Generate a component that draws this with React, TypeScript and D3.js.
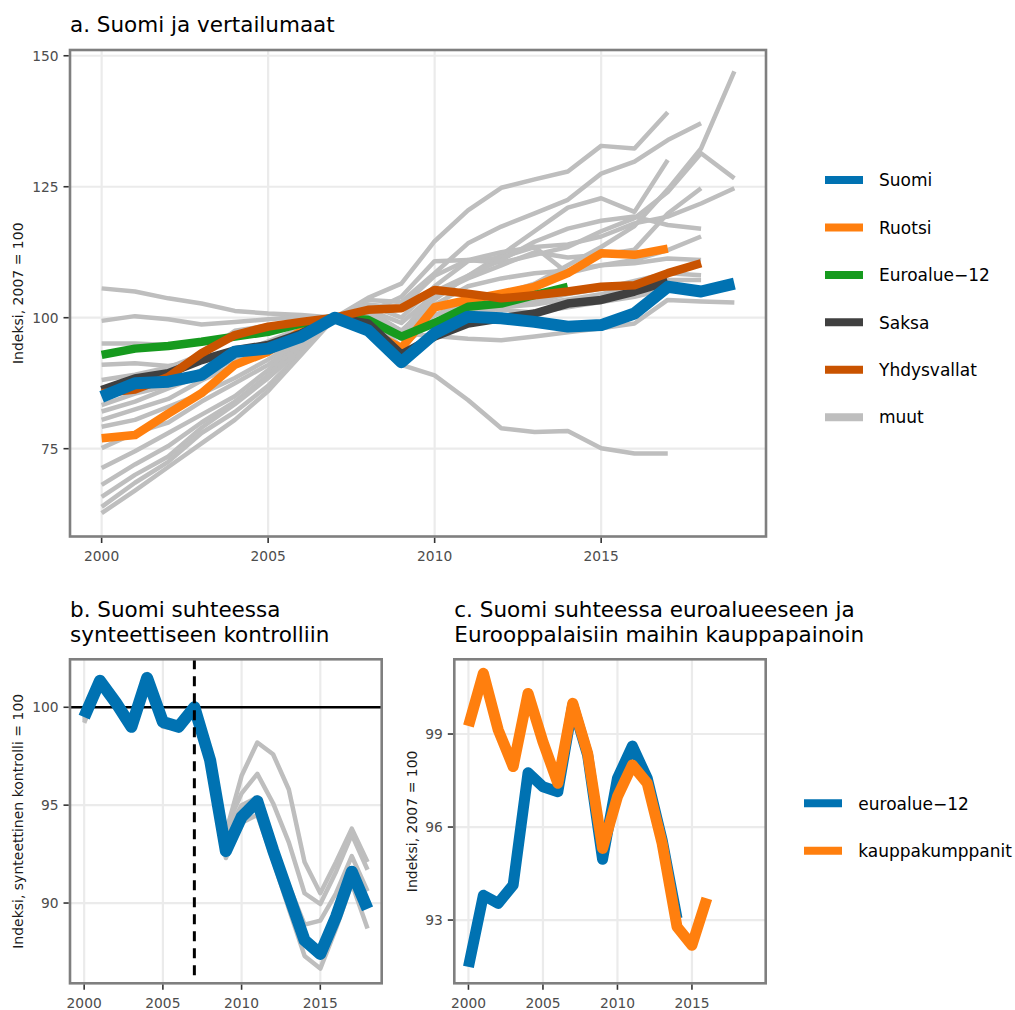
import React from "react";
import * as d3 from "d3";

// ---------- Panel a data ----------
const yearsA = [2000, 2001, 2002, 2003, 2004, 2005, 2006, 2007, 2008, 2009, 2010, 2011, 2012, 2013, 2014, 2015, 2016, 2017, 2018, 2019];
const suomiA = [84.9, 87.5, 87.8, 89.1, 93.5, 94.1, 96.4, 100, 97.6, 91.5, 97.0, 100.2, 99.9, 99.2, 98.3, 98.6, 100.8, 105.9, 105.0, 106.5];
const ruotsiA = [77.0, 77.6, 81.7, 85.6, 91.0, 93.5, 97.5, 100, 97.5, 94.2, 102.0, 103.4, 104.6, 105.9, 108.5, 112.3, 112.0, 113.2, null, null];
const euroA = [92.9, 94.1, 94.6, 95.4, 96.4, 97.3, 98.9, 100, 99.6, 96.4, 99.0, 102.1, 102.7, 104.3, 105.9, null, null, null, null, null];
const saksaA = [86.2, 88.4, 89.4, 91.9, 93.8, 94.8, 97.0, 100, 98.9, 93.0, 96.4, 98.9, 99.9, 100.8, 102.7, 103.4, 105.0, 106.9, null, null];
const usaA = [85.6, 86.3, 88.7, 93.2, 96.7, 98.3, 99.2, 100, 101.5, 101.8, 105.3, 104.6, 103.7, 104.3, 105.0, 105.9, 106.2, 108.5, 110.4, null];

const muut01 = [105.6, 105.0, 103.7, 102.7, 101.3, 100.8, 100.5, 100, 98.5, 91.0, 89.0, 84.3, 78.9, 78.2, 78.4, 75.1, 74.1, 74.1, null, null];
const muut02 = [99.4, 100.3, 99.7, 98.7, 99.2, 99.7, 100.2, 100, 99.5, 97.0, 96.5, 96.0, 95.7, 96.4, 97.2, 98.0, 98.9, 103.4, 103.1, 102.9];
const muut03 = [95.1, 95.1, 94.8, 95.4, 96.5, 97.5, 98.5, 100, 100.5, 97.5, 100.5, 102.5, 102.0, 102.5, 103.5, 104.5, 106.0, 107.2, 107.2, null];
const muut04 = [91.0, 91.3, 90.8, 91.8, 93.5, 95.0, 97.5, 100, 100.5, 96.0, 99.0, 101.0, 101.5, 101.0, 102.0, 103.0, 104.0, 105.5, null, null];
const muut05 = [88.1, 89.1, 90.5, 93.0, 97.5, 98.5, 99.3, 100, 101.5, 97.5, 103.5, 108.0, 112.0, 116.5, 121.0, 122.8, 120.2, 130.1, null, null];
const muut06 = [83.3, 85.5, 87.0, 90.0, 93.0, 95.5, 98.0, 100, 100.0, 94.5, 99.5, 101.0, 102.0, 103.0, 104.5, 105.5, 107.0, 108.5, 108.1, null];
const muut07 = [82.1, 84.0, 86.5, 89.0, 92.0, 94.5, 97.5, 100, 102.5, 100.0, 106.0, 110.8, 111.5, 113.5, 108.5, 110.0, 110.4, 111.3, 111.0, null];
const muut08 = [80.5, 82.5, 84.5, 88.0, 91.0, 94.0, 97.0, 100, 101.0, 97.5, 102.5, 106.0, 107.5, 108.5, 109.0, 110.0, 111.0, 112.9, 115.5, null];
const muut09 = [79.2, 80.5, 83.0, 85.5, 88.5, 92.0, 96.0, 100, 101.5, 96.0, 100.5, 103.0, 104.5, 106.5, 110.0, 113.5, 117.5, 124.5, 132.3, 147.0];
const muut10 = [75.1, 78.0, 80.0, 84.0, 87.5, 91.0, 95.5, 100, 101.0, 104.0, 110.8, 111.0, 112.5, 113.5, 114.0, 115.5, 118.0, 119.3, 121.8, 124.7];
const muut11 = [71.3, 74.5, 78.0, 81.5, 85.0, 90.0, 95.0, 100, 101.5, 99.0, 104.5, 107.5, 110.0, 112.5, 111.5, 112.0, 113.0, 119.9, 124.7, null];
const muut12 = [68.1, 72.0, 75.5, 80.0, 84.0, 89.0, 95.0, 100, 102.5, 102.0, 108.0, 111.0, 110.5, 112.0, 113.5, 116.5, 119.0, 124.0, 131.4, 126.6];
const muut13 = [65.8, 70.0, 73.5, 79.0, 83.5, 88.5, 94.0, 100, 103.4, 103.0, 108.5, 114.2, 117.4, 119.9, 122.5, 127.5, 129.8, 133.9, 137.1, null];
const muut14 = [63.9, 68.5, 72.5, 78.0, 82.0, 87.0, 93.5, 100, 100.8, 97.0, 105.0, 108.0, 111.0, 114.5, 117.0, 118.5, 119.3, 117.7, 117.0, null];
const muut15 = [62.7, 67.0, 71.5, 76.0, 80.5, 86.0, 93.0, 100, 103.8, 106.5, 114.6, 120.5, 124.8, 126.4, 127.9, 132.8, 132.3, 139.2, null, null];
const muutA = [muut01, muut02, muut03, muut04, muut05, muut06, muut07, muut08, muut09, muut10, muut11, muut12, muut13, muut14, muut15];

const xTicksA = [2000, 2005, 2010, 2015];
const yTicksA = [75, 100, 125, 150];

// ---------- Panel b data ----------
const yearsB = [2000, 2001, 2002, 2003, 2004, 2005, 2006, 2007, 2008, 2009, 2010, 2011, 2012, 2013, 2014, 2015, 2016, 2017, 2018];
const suomiB = [99.5, 101.35, 100.25, 99.0, 101.5, 99.25, 99.0, 100.0, 97.3, 92.65, 94.4, 95.2, 92.7, 90.4, 88.1, 87.4, 89.3, 91.6, 89.7];
const kontrolliB1 = [99.3, 101.3, 100.2, 99.0, 101.7, 99.1, 99.0, 100.0, 97.6, 93.6, 96.5, 98.2, 97.6, 95.8, 92.1, 90.5, 92.1, 93.8, 92.1];
const kontrolliB2 = [99.4, 101.4, 100.3, 99.1, 101.6, 99.2, 99.0, 100.0, 97.5, 93.8, 95.6, 96.6, 95.1, 93.1, 90.5, 89.95, 91.6, 93.5, 91.7];
const kontrolliB3 = [99.5, 101.3, 100.2, 99.0, 101.5, 99.2, 98.9, 100.0, 97.4, 93.5, 95.0, 95.4, 93.1, 90.9, 88.9, 89.1, 90.5, 92.4, 90.6];
const kontrolliB4 = [99.2, 101.2, 100.1, 98.9, 101.6, 99.0, 98.9, 100.0, 97.2, 92.3, 94.1, 94.5, 92.2, 89.7, 87.3, 86.65, 88.7, 91.0, 88.7];
const kontrolliB = [kontrolliB1, kontrolliB2, kontrolliB3, kontrolliB4];
const xTicksB = [2000, 2005, 2010, 2015];
const yTicksB = [90, 95, 100];
const vuosiKatkos = 2007;

// ---------- Panel c data ----------
const yearsC = [2000, 2001, 2002, 2003, 2004, 2005, 2006, 2007, 2008, 2009, 2010, 2011, 2012, 2013, 2014, 2015, 2016];
const euroalueC = [91.49, 93.8, 93.54, 94.13, 97.75, 97.3, 97.14, 99.94, 98.32, 94.96, 97.57, 98.61, 97.57, 95.58, 93.05, null, null];
const kauppaC = [99.26, 100.96, 99.13, 97.95, 100.31, 98.75, 97.41, 99.99, 98.38, 95.31, 96.98, 98.0, 97.41, 95.47, 92.78, 92.19, 93.7];
const xTicksC = [2000, 2005, 2010, 2015];
const yTicksC = [93, 96, 99];

// ---------- Styling ----------
const FONT = "'DejaVu Sans', 'Liberation Sans', sans-serif";
const BLUE = "#0072B2";
const ORANGE = "#FF7F0E";
const GREEN = "#169A1E";
const DARK = "#404040";
const USA = "#C95300";
const GREY = "#BEBEBE";

const legendA = [
  { label: "Suomi", color: BLUE },
  { label: "Ruotsi", color: ORANGE },
  { label: "Euroalue\u221212", color: GREEN },
  { label: "Saksa", color: DARK },
  { label: "Yhdysvallat", color: USA },
  { label: "muut", color: GREY },
];
const legendC = [
  { label: "euroalue\u221212", color: BLUE },
  { label: "kauppakumppanit", color: ORANGE },
];

type Box = { x0: number; x1: number; y0: number; y1: number };

function makePath(years: number[], vals: (number | null)[], xs: any, ys: any) {
  const gen = d3
    .line<number | null>()
    .defined((v) => v != null)
    .x((_, i) => xs(years[i]))
    .y((v) => ys(v as number));
  return gen(vals) || "";
}

function Frame({ box, xs, ys, xTicks, yTicks, id, children }: any) {
  const b: Box = box;
  return (
    <g>
      <defs>
        <clipPath id={id}>
          <rect x={b.x0} y={b.y0} width={b.x1 - b.x0} height={b.y1 - b.y0} />
        </clipPath>
      </defs>
      {xTicks.map((t: number) => (
        <line key={"gx" + t} x1={xs(t)} x2={xs(t)} y1={b.y0} y2={b.y1} stroke="#EBEBEB" strokeWidth={2.2} />
      ))}
      {yTicks.map((t: number) => (
        <line key={"gy" + t} x1={b.x0} x2={b.x1} y1={ys(t)} y2={ys(t)} stroke="#EBEBEB" strokeWidth={2.2} />
      ))}
      <g clipPath={`url(#${id})`}>{children}</g>
      <rect x={b.x0} y={b.y0} width={b.x1 - b.x0} height={b.y1 - b.y0} fill="none" stroke="#7F7F7F" strokeWidth={2.6} />
      {xTicks.map((t: number) => (
        <g key={"tx" + t}>
          <line x1={xs(t)} x2={xs(t)} y1={b.y1 + 1.3} y2={b.y1 + 6.5} stroke="#333" strokeWidth={1.6} />
          <text x={xs(t)} y={b.y1 + 24.5} textAnchor="middle" fontFamily={FONT} fontSize={13.8} fill="#4D4D4D">
            {t}
          </text>
        </g>
      ))}
      {yTicks.map((t: number) => (
        <g key={"ty" + t}>
          <line x1={b.x0 - 6.5} x2={b.x0 - 1.3} y1={ys(t)} y2={ys(t)} stroke="#333" strokeWidth={1.6} />
          <text x={b.x0 - 11.5} y={ys(t) + 5} textAnchor="end" fontFamily={FONT} fontSize={13.8} fill="#4D4D4D">
            {t}
          </text>
        </g>
      ))}
    </g>
  );
}

function YTitle({ x, y, text }: { x: number; y: number; text: string }) {
  return (
    <text transform={`translate(${x},${y}) rotate(-90)`} textAnchor="middle" fontFamily={FONT} fontSize={14} fill="#1A1A1A">
      {text}
    </text>
  );
}

function Legend({ items, x, y0, step, textX }: any) {
  return (
    <g>
      {items.map((it: any, i: number) => (
        <g key={it.label}>
          <line x1={x} x2={x + 38} y1={y0 + i * step} y2={y0 + i * step} stroke={it.color} strokeWidth={8} />
          <text x={textX} y={y0 + i * step + 6.2} fontFamily={FONT} fontSize={17} fill="#000">
            {it.label}
          </text>
        </g>
      ))}
    </g>
  );
}

export default function App() {
  const boxA: Box = { x0: 70, x1: 766, y0: 50, y1: 536.5 };
  const boxB: Box = { x0: 70, x1: 381.7, y0: 659.3, y1: 983.3 };
  const boxC: Box = { x0: 454.3, x1: 765.7, y0: 659.3, y1: 983.3 };

  const xa = d3.scaleLinear().domain([1999.05, 2019.95]).range([boxA.x0, boxA.x1]);
  const ya = d3.scaleLinear().domain([58.24, 151.1]).range([boxA.y1, boxA.y0]);
  const xb = d3.scaleLinear().domain([1999.1, 2018.9]).range([boxB.x0, boxB.x1]);
  const yb = d3.scaleLinear().domain([85.9, 102.45]).range([boxB.y1, boxB.y0]);
  const xc = d3.scaleLinear().domain([1999.05, 2019.95]).range([boxC.x0, boxC.x1]);
  const yc = d3.scaleLinear().domain([90.96, 101.41]).range([boxC.y1, boxC.y0]);

  const lineProps = { fill: "none", strokeLinejoin: "round" as const, strokeLinecap: "butt" as const };

  return (
    <svg width={1015} height={1010} style={{ position: "absolute", left: 0, top: 0, background: "#fff" }}>
      <rect width={1015} height={1010} fill="#fff" />

      {/* Panel a */}
      <text x={70} y={32} fontFamily={FONT} fontSize={21.5} fill="#000">a. Suomi ja vertailumaat</text>
      <Frame box={boxA} xs={xa} ys={ya} xTicks={xTicksA} yTicks={yTicksA} id="clipA">
        {muutA.map((s, i) => (
          <path key={"m" + i} d={makePath(yearsA, s, xa, ya)} stroke={GREY} strokeWidth={4.5} {...lineProps} />
        ))}
        <path d={makePath(yearsA, ruotsiA, xa, ya)} stroke={ORANGE} strokeWidth={8.5} {...lineProps} />
        <path d={makePath(yearsA, euroA, xa, ya)} stroke={GREEN} strokeWidth={8.5} {...lineProps} />
        <path d={makePath(yearsA, saksaA, xa, ya)} stroke={DARK} strokeWidth={8.5} {...lineProps} />
        <path d={makePath(yearsA, usaA, xa, ya)} stroke={USA} strokeWidth={8.5} {...lineProps} />
        <path d={makePath(yearsA, suomiA, xa, ya)} stroke={BLUE} strokeWidth={12} {...lineProps} />
      </Frame>
      <YTitle x={23} y={(boxA.y0 + boxA.y1) / 2} text="Indeksi, 2007 = 100" />
      <Legend items={legendA} x={825} y0={180} step={47.45} textX={879} />

      {/* Panel b */}
      <text fontFamily={FONT} fontSize={21.5} fill="#000">
        <tspan x={70} y={616.7}>b. Suomi suhteessa</tspan>
        <tspan x={70} y={641.7}>synteettiseen kontrolliin</tspan>
      </text>
      <Frame box={boxB} xs={xb} ys={yb} xTicks={xTicksB} yTicks={yTicksB} id="clipB">
        {kontrolliB.map((s, i) => (
          <path key={"k" + i} d={makePath(yearsB, s, xb, yb)} stroke={GREY} strokeWidth={4.5} {...lineProps} />
        ))}
        <line x1={boxB.x0} x2={boxB.x1} y1={yb(100)} y2={yb(100)} stroke="#000" strokeWidth={2.4} />
        <path d={makePath(yearsB, suomiB, xb, yb)} stroke={BLUE} strokeWidth={12} {...lineProps} />
        <line x1={xb(vuosiKatkos)} x2={xb(vuosiKatkos)} y1={boxB.y0} y2={boxB.y1} stroke="#000" strokeWidth={3} strokeDasharray="10,7" />
      </Frame>
      <YTitle x={23} y={(boxB.y0 + boxB.y1) / 2} text="Indeksi, synteettinen kontrolli = 100" />

      {/* Panel c */}
      <text fontFamily={FONT} fontSize={21.5} fill="#000">
        <tspan x={454.3} y={616.7}>c. Suomi suhteessa euroalueeseen ja</tspan>
        <tspan x={454.3} y={641.7}>Eurooppalaisiin maihin kauppapainoin</tspan>
      </text>
      <Frame box={boxC} xs={xc} ys={yc} xTicks={xTicksC} yTicks={yTicksC} id="clipC">
        <path d={makePath(yearsC, euroalueC, xc, yc)} stroke={BLUE} strokeWidth={11} {...lineProps} />
        <path d={makePath(yearsC, kauppaC, xc, yc)} stroke={ORANGE} strokeWidth={11} {...lineProps} />
      </Frame>
      <YTitle x={416.5} y={(boxC.y0 + boxC.y1) / 2} text="Indeksi, 2007 = 100" />
      <Legend items={legendC} x={804} y0={803.3} step={47.4} textX={858.3} />
    </svg>
  );
}
